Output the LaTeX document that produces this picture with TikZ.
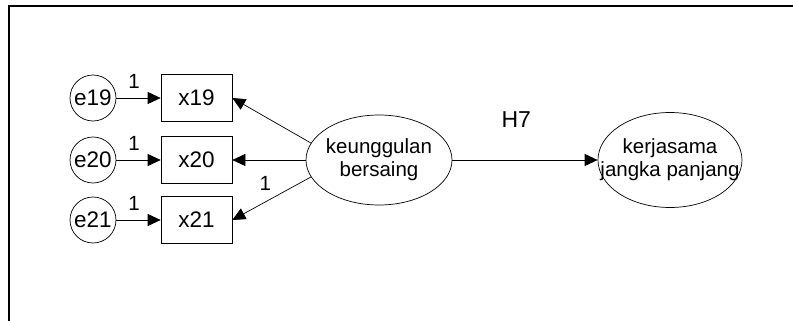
\documentclass[tikz,border=0pt]{standalone}
\usepackage{fontspec}
\setmainfont{Liberation Sans}
\usetikzlibrary{arrows.meta,shapes.geometric}

\tikzset{
    every node/.style={font=\fontsize{20.5}{23}\selectfont},
    errvar/.style={draw, circle, minimum size=46pt, inner sep=0pt, line width=0.7pt, font=\fontsize{22.5}{25}\selectfont},
    obsvar/.style={draw, rectangle, minimum width=71pt, minimum height=47pt, inner sep=0pt, line width=0.7pt, font=\fontsize{22.5}{25}\selectfont},
    latvar/.style={draw, ellipse, inner xsep=-20pt, inner ysep=0pt, line width=0.7pt, align=center},
    path/.style={-{Triangle[length=13pt,width=12pt]}, line width=0.7pt},
    coef/.style={inner sep=1pt}
}

\begin{document}
\begin{tikzpicture}[x=1pt, y=-1pt]
    \useasboundingbox (0,0) rectangle (793,321);
    % bingkai
    \draw[line width=1.6pt] (9,321) -- (9,6) -- (793,6);

    % variabel laten
    \node[latvar, minimum width=146pt, minimum height=90pt] (kb) at (379,160) {keunggulan\\bersaing};
    \node[latvar, minimum width=144pt, minimum height=95pt] (kj) at (670,160) {kerjasama\\jangka panjang};

    % indikator dan error
    \foreach \i/\y in {19/98, 20/160, 21/220} {
        \node[errvar] (e\i) at (93,\y) {e\i};
        \node[obsvar] (x\i) at (196.5,\y) {x\i};
        \draw[path] (e\i) -- node[coef, above=8pt, pos=0.4] (c\i) {1} (x\i);
    }

    % loading
    \draw[path] (kb.166) -- (x19.east);
    \draw[path] (kb.west) -- (x20.east);
    \draw[path] (kb.194) -- node[coef, pos=0.58, above=10pt] (lx21) {1} (x21.east);

    % jalur struktural
    \draw[path] (kb.east) -- node[pos=0.44, above=29pt, font=\fontsize{23}{26}\selectfont] (h7) {H7} (kj.west);
\end{tikzpicture}
\end{document}
